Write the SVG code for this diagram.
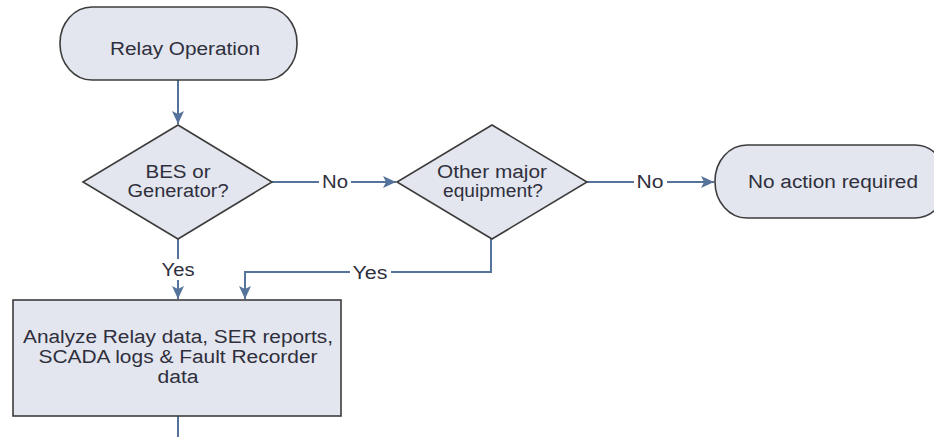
<svg xmlns="http://www.w3.org/2000/svg" width="934" height="437" viewBox="0 0 934 437">
<defs>
<marker id="arr" markerUnits="userSpaceOnUse" markerWidth="14" markerHeight="12" refX="13" refY="6" orient="auto">
<path d="M0,0 L13,6 L0,12 L3,6 z" fill="#56739b"/>
</marker>
<style>
.shape{fill:#e3e6ee;stroke:#3c3c3c;stroke-width:1.6}
.conn{fill:none;stroke:#56739b;stroke-width:2}
.t{font-family:"Liberation Sans",Arial,sans-serif;font-size:18px;fill:#2f2f3d;text-anchor:middle}
.lbg{fill:#ffffff}
</style>
</defs>
<rect width="934" height="437" fill="#ffffff"/>
<g id="connectors">
<path class="conn" d="M178,80 V124" marker-end="url(#arr)"/>
<path class="conn" d="M272,182 H396" marker-end="url(#arr)"/>
<path class="conn" d="M587,182 H714" marker-end="url(#arr)"/>
<path class="conn" d="M178,239 V299" marker-end="url(#arr)"/>
<path class="conn" d="M491,239 V272 H245 V299" marker-end="url(#arr)"/>
<path class="conn" d="M178,416 V437"/>
<rect class="lbg" x="319" y="172" width="32" height="20"/>
<text class="t" x="335" y="188" textLength="26" lengthAdjust="spacingAndGlyphs">No</text>
<rect class="lbg" x="634" y="172" width="33" height="20"/>
<text class="t" x="650" y="188" textLength="27" lengthAdjust="spacingAndGlyphs">No</text>
<rect class="lbg" x="159" y="259" width="38" height="21"/>
<text class="t" x="178" y="276" textLength="33" lengthAdjust="spacingAndGlyphs">Yes</text>
<rect class="lbg" x="350" y="262" width="41" height="20"/>
<text class="t" x="370" y="279" textLength="35" lengthAdjust="spacingAndGlyphs">Yes</text>
</g>
<g id="relay-operation">
<rect class="shape" x="60" y="7" width="237" height="73" rx="32" ry="36"/>
<text class="t" x="185" y="55" textLength="150" lengthAdjust="spacingAndGlyphs">Relay Operation</text>
</g>
<g id="bes-generator">
<polygon class="shape" points="178,125 272,182 178,239 83,182"/>
<text class="t" x="178" y="178" textLength="65" lengthAdjust="spacingAndGlyphs">BES or</text>
<text class="t" x="178" y="197" textLength="101" lengthAdjust="spacingAndGlyphs">Generator?</text>
</g>
<g id="other-major-equipment">
<polygon class="shape" points="492,125 587,182 492,239 397,182"/>
<text class="t" x="492" y="178" textLength="110" lengthAdjust="spacingAndGlyphs">Other major</text>
<text class="t" x="493" y="197" textLength="100" lengthAdjust="spacingAndGlyphs">equipment?</text>
</g>
<g id="no-action-required">
<rect class="shape" x="715" y="145" width="232" height="73" rx="32" ry="36"/>
<text class="t" x="833" y="188" textLength="170" lengthAdjust="spacingAndGlyphs">No action required</text>
</g>
<g id="analyze-data">
<rect class="shape" x="13" y="300" width="328" height="116"/>
<text class="t" x="178" y="343" textLength="310" lengthAdjust="spacingAndGlyphs">Analyze Relay data, SER reports,</text>
<text class="t" x="178" y="363" textLength="279" lengthAdjust="spacingAndGlyphs">SCADA logs &amp; Fault Recorder</text>
<text class="t" x="178" y="383" textLength="41" lengthAdjust="spacingAndGlyphs">data</text>
</g>
</svg>
